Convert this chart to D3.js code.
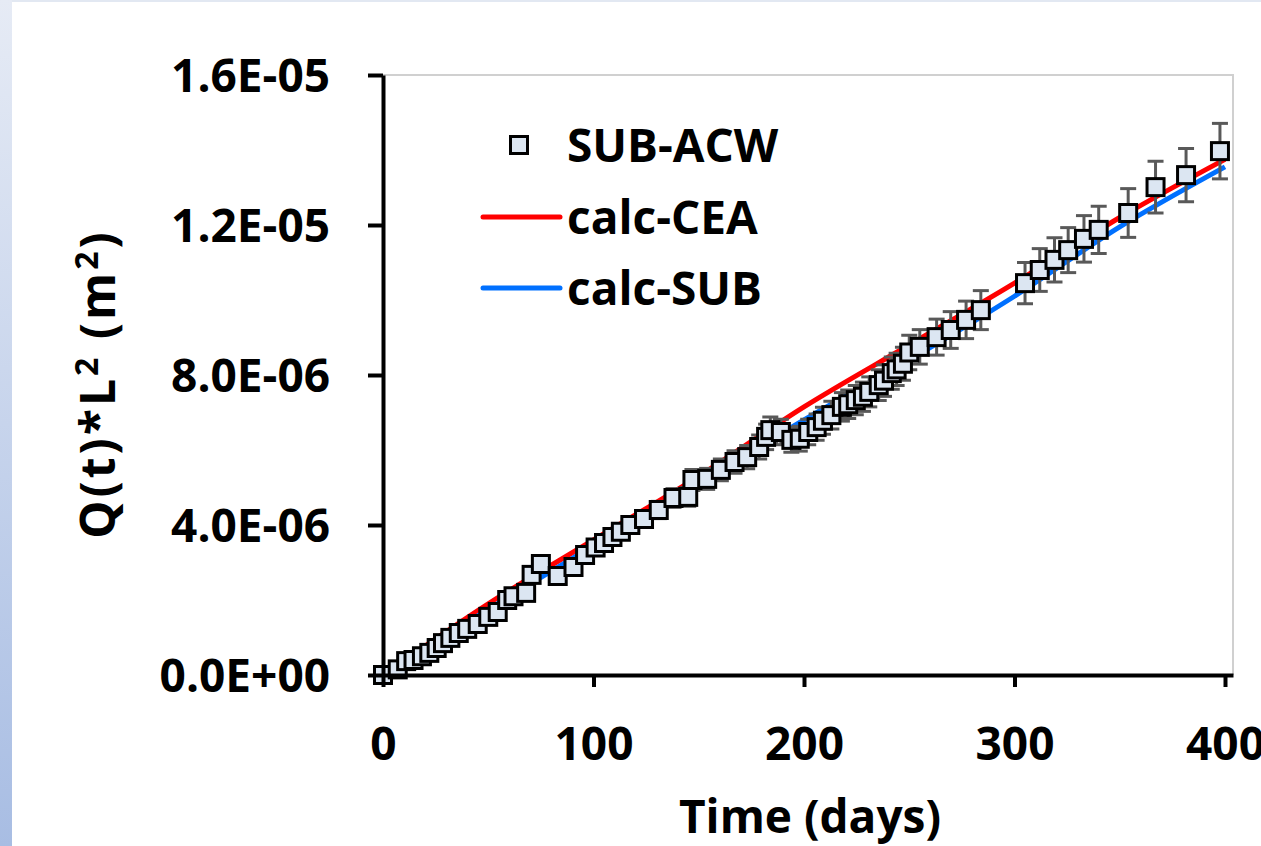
<!DOCTYPE html>
<html>
<head>
<meta charset="utf-8">
<script src="https://cdn.jsdelivr.net/npm/d3@7"></script>
<style>
  body { margin: 0; background: #fff; }
  svg text { font-family: "Open Sans", "DejaVu Sans", sans-serif; font-weight: 700; fill: #000; }
</style>
</head>
<body>
<svg id="chart" width="1261" height="846"></svg>
<script>
// =====================
// DATA (Q(t)*L^2 in units of 1E-06 m^2)
// =====================
const subTime = [0, 7, 11, 14.5, 18.5, 22, 25.5, 28.5, 32, 36, 40, 45, 50, 54.5, 59, 62, 68, 70.6, 75,
  83, 90.5, 96, 101, 105, 109, 113, 117.5, 124, 131, 138, 145, 147, 154, 160.5, 167, 173, 178.7,
  182, 184, 189, 194, 198, 202, 206, 209, 213, 218, 221, 224.6, 228, 231, 235.5, 238, 241.7, 244,
  247, 250, 255, 263, 269.7, 277, 284, 305, 312, 319, 325.5, 333, 340, 354, 367, 381.5, 397.6];
const subValue = [0, 0.15, 0.37, 0.40, 0.50, 0.59, 0.72, 0.85, 0.99, 1.12, 1.23, 1.36, 1.55, 1.68, 2.00, 2.10, 2.19, 2.67, 2.96,
  2.64, 2.88, 3.20, 3.40, 3.52, 3.68, 3.82, 4.00, 4.16, 4.40, 4.72, 4.75, 5.20, 5.23, 5.47, 5.68, 5.81, 6.08,
  6.35, 6.53, 6.48, 6.27, 6.30, 6.48, 6.61, 6.78, 6.93, 7.15, 7.22, 7.33, 7.42, 7.55, 7.73, 7.85, 8.05, 8.15,
  8.30, 8.60, 8.75, 9.01, 9.20, 9.47, 9.73, 10.45, 10.80, 11.07, 11.33, 11.63, 11.87, 12.32, 13.01, 13.33, 13.97];
const subError = [0, 0.01, 0.02, 0.02, 0.03, 0.03, 0.04, 0.05, 0.05, 0.06, 0.07, 0.07, 0.08, 0.09, 0.11, 0.11, 0.12, 0.14, 0.16,
  0.14, 0.15, 0.17, 0.18, 0.19, 0.20, 0.20, 0.21, 0.22, 0.23, 0.25, 0.25, 0.28, 0.28, 0.29, 0.30, 0.31, 0.32,
  0.34, 0.35, 0.34, 0.33, 0.33, 0.34, 0.35, 0.36, 0.37, 0.38, 0.38, 0.39, 0.39, 0.40, 0.41, 0.42, 0.43, 0.43,
  0.44, 0.46, 0.46, 0.48, 0.49, 0.50, 0.52, 0.55, 0.57, 0.59, 0.60, 0.62, 0.63, 0.65, 0.69, 0.71, 0.74];

const calcTime = [0, 50, 100, 150, 200, 250, 300, 350, 400];
const calcCEA = [0, 1.90, 3.60, 5.30, 7.15, 8.80, 10.45, 12.20, 13.75];
const calcSUB = [0, 1.75, 3.45, 5.10, 6.80, 8.40, 10.10, 11.95, 13.55];

const xTicks = [0, 100, 200, 300, 400];
const yTicks = [0, 4, 8, 12, 16];
const yTickLabels = ["0.0E+00", "4.0E-06", "8.0E-06", "1.2E-05", "1.6E-05"];

const unit = 1e-6;

// =====================
// SVG SETUP
// =====================
const svg = d3.select("#chart");

// slide background: bluish strip on the left and top
const defs = svg.append("defs");
const grad = defs.append("linearGradient")
  .attr("id", "sideGrad")
  .attr("x1", 0).attr("y1", 0).attr("x2", 0).attr("y2", 1);
grad.append("stop").attr("offset", "0%").attr("stop-color", "#e6ebf5");
grad.append("stop").attr("offset", "100%").attr("stop-color", "#a8bde3");

svg.append("rect").attr("x", 0).attr("y", 0).attr("width", 1261).attr("height", 846).attr("fill", "#fff");
svg.append("rect").attr("x", 0).attr("y", 0).attr("width", 12).attr("height", 846).attr("fill", "url(#sideGrad)");
svg.append("rect").attr("x", 12).attr("y", 0).attr("width", 1249).attr("height", 2).attr("fill", "#e2e8f2");

// =====================
// SCALES
// =====================
const x = d3.scaleLinear()
  .domain([0, 403.8])
  .range([383, 1233]);

const y = d3.scaleLinear()
  .domain([0, 16 * unit])
  .range([675, 75]);

// plot area border (top and right)
svg.append("path")
  .attr("d", `M${x(0)},${y(16 * unit)}H${x(403.8)}V${y(0)}`)
  .attr("fill", "none")
  .attr("stroke", "#d0d0d0")
  .attr("stroke-width", 2);

// =====================
// CALCULATED LINES
// =====================
const line = d3.line()
  .x(d => x(d[0]))
  .y(d => y(d[1] * unit))
  .curve(d3.curveMonotoneX);

svg.append("path")
  .datum(calcTime.map((t, i) => [t, calcCEA[i]]))
  .attr("d", line)
  .attr("fill", "none")
  .attr("stroke", "#ff0000")
  .attr("stroke-width", 5);

svg.append("path")
  .datum(calcTime.map((t, i) => [t, calcSUB[i]]))
  .attr("d", line)
  .attr("fill", "none")
  .attr("stroke", "#0070ff")
  .attr("stroke-width", 5);

// =====================
// MEASURED POINTS
// =====================
const points = subTime.map((t, i) => ({ t, v: subValue[i], e: subError[i] }));

const errG = svg.append("g")
  .attr("stroke", "#595959")
  .attr("stroke-width", 3);

points.forEach(d => {
  const cx = x(d.t);
  const y1 = y((d.v + d.e) * unit);
  const y2 = y((d.v - d.e) * unit);
  errG.append("line").attr("x1", cx).attr("x2", cx).attr("y1", y1).attr("y2", y2);
  errG.append("line").attr("x1", cx - 8).attr("x2", cx + 8).attr("y1", y1).attr("y2", y1);
  errG.append("line").attr("x1", cx - 8).attr("x2", cx + 8).attr("y1", y2).attr("y2", y2);
});

const mSize = 17;
svg.append("g")
  .selectAll("rect")
  .data(points)
  .enter()
  .append("rect")
  .attr("x", d => x(d.t) - mSize / 2)
  .attr("y", d => y(d.v * unit) - mSize / 2)
  .attr("width", mSize)
  .attr("height", mSize)
  .attr("fill", "#dce6f2")
  .attr("stroke", "#000")
  .attr("stroke-width", 3);

// =====================
// AXES
// =====================
const xAxis = svg.append("g")
  .attr("transform", `translate(0,${y(0)})`)
  .call(d3.axisBottom(x).tickValues(xTicks).tickSize(12).tickSizeOuter(0).tickPadding(40));

const yAxis = svg.append("g")
  .attr("transform", `translate(${x(0)},0)`)
  .call(d3.axisLeft(y)
    .tickValues(yTicks.map(v => v * unit))
    .tickFormat((d, i) => yTickLabels[i])
    .tickSize(15).tickSizeOuter(0).tickPadding(38));

[xAxis, yAxis].forEach(a => {
  a.select(".domain").attr("stroke", "#000").attr("stroke-width", 4);
  a.selectAll(".tick line").attr("stroke", "#000").attr("stroke-width", 4);
  a.selectAll(".tick text")
    .style("font-size", "46px")
    .style("font-family", "'Open Sans', sans-serif")
    .style("font-weight", 700)
    .attr("fill", "#000");
});
yAxis.selectAll(".tick text").attr("dy", "0.36em");
xAxis.selectAll(".tick text").attr("dy", "0.72em");

// =====================
// LABELS
// =====================
svg.append("text")
  .attr("x", 810)
  .attr("y", 833)
  .attr("text-anchor", "middle")
  .style("font-size", "46px")
  .text("Time (days)");

const yTitle = svg.append("text")
  .attr("transform", "translate(115,384) rotate(-90)")
  .attr("text-anchor", "middle")
  .style("font-size", "48px")
  .style("letter-spacing", "3px");
yTitle.append("tspan").text("Q(t)*L");
yTitle.append("tspan").attr("dy", -17).style("font-size", "32px").text("2");
yTitle.append("tspan").attr("dy", 17).text(" (m");
yTitle.append("tspan").attr("dy", -17).style("font-size", "32px").text("2");
yTitle.append("tspan").attr("dy", 17).text(")");

// =====================
// LEGEND
// =====================
const legend = svg.append("g");
legend.append("rect")
  .attr("x", 519 - 8.5).attr("y", 145 - 8.5)
  .attr("width", 17).attr("height", 17)
  .attr("fill", "#dce6f2").attr("stroke", "#000").attr("stroke-width", 3);
legend.append("text").attr("x", 567).attr("y", 145).attr("dy", "0.36em")
  .style("font-size", "46px").text("SUB-ACW");

legend.append("line")
  .attr("x1", 483).attr("x2", 560).attr("y1", 217).attr("y2", 217)
  .attr("stroke", "#ff0000").attr("stroke-width", 5).attr("stroke-linecap", "round");
legend.append("text").attr("x", 567).attr("y", 217).attr("dy", "0.36em")
  .style("font-size", "46px").text("calc-CEA");

legend.append("line")
  .attr("x1", 483).attr("x2", 560).attr("y1", 288).attr("y2", 288)
  .attr("stroke", "#0070ff").attr("stroke-width", 5).attr("stroke-linecap", "round");
legend.append("text").attr("x", 567).attr("y", 288).attr("dy", "0.36em")
  .style("font-size", "46px").text("calc-SUB");
</script>
</body>
</html>
